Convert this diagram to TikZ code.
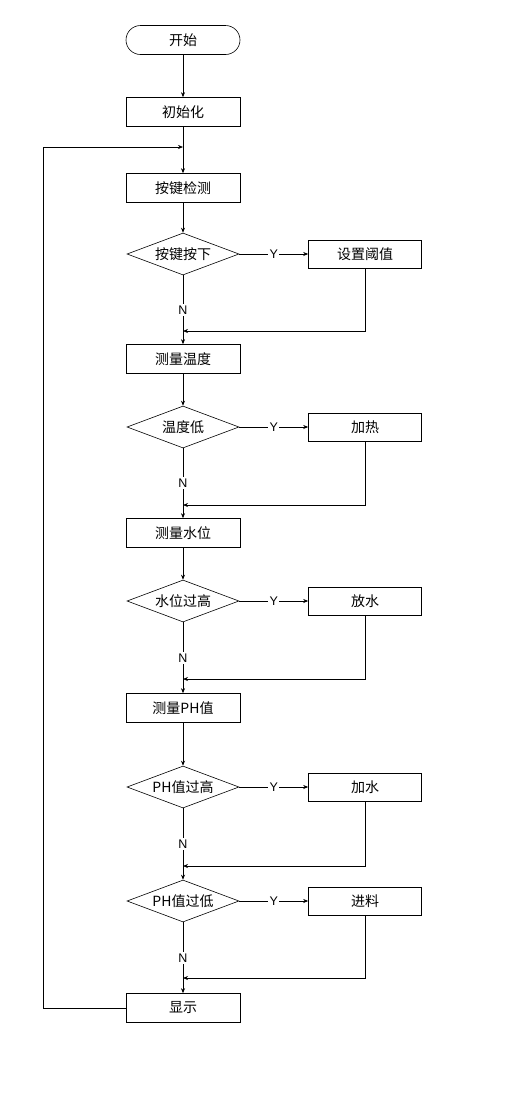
\documentclass[tikz,border=0pt]{standalone}
\usepackage{fontspec}
\newfontfamily\cjk{Noto Sans CJK SC}
\setsansfont{Liberation Sans}
\usetikzlibrary{shapes.geometric,arrows.meta}
\begin{document}
\begin{tikzpicture}[x=1pt,y=-1pt,
  every node/.style={font=\cjk\fontsize{14}{16}\selectfont},
  box/.style={draw,line width=0.6pt,minimum width=114pt,minimum height=29pt,inner sep=0pt},
  rbox/.style={box,minimum width=113pt,minimum height=28pt},
  term/.style={draw,line width=0.6pt,rounded corners=14.5pt,minimum width=114pt,minimum height=29pt,inner sep=0pt},
  dec/.style={draw,line width=0.6pt,diamond,aspect=2.67,minimum width=112pt,minimum height=42pt,inner sep=0pt},
  lbl/.style={font=\sffamily\fontsize{12.5}{14}\selectfont,fill=white,inner sep=1.5pt},
  line/.style={line width=0.6pt},
  arr/.style={line,-{Stealth[length=5pt,width=4pt]}}]
\useasboundingbox (0,0) rectangle (508,1096);
\node[term] (start) at (183,40) {开始};
\node[box] (init) at (183,112) {初始化};
\coordinate (loop) at (183,147);
\node[box] (key) at (183,188) {按键检测};
\node[dec] (d1) at (183,254) {按键按下};
\node[rbox] (r1) at (365,254) {设置阈值};
\coordinate (j1) at (183,331);
\node[box] (temp) at (183,359) {测量温度};
\node[dec] (d2) at (183,427) {温度低};
\node[rbox] (r2) at (365,427) {加热};
\coordinate (j2) at (183,505);
\node[box] (lvl) at (183,533) {测量水位};
\node[dec] (d3) at (183,601) {水位过高};
\node[rbox] (r3) at (365,601) {放水};
\coordinate (j3) at (183,679);
\node[box] (ph) at (183,708) {测量PH值};
\node[dec] (d4) at (183,787) {PH值过高};
\node[rbox] (r4) at (365,787) {加水};
\coordinate (j4) at (183,866);
\node[dec] (d5) at (183,901) {PH值过低};
\node[rbox] (r5) at (365,901) {进料};
\coordinate (j5) at (183,978);
\node[box] (disp) at (183,1008) {显示};
\coordinate (lc1) at (43,1008);
\coordinate (lc2) at (43,147);

\draw[arr] (start) -- (init);
\draw[line] (init) -- (loop);
\draw[arr] (loop) -- (key);
\draw[arr] (key) -- (d1);
% decision 1
\draw[arr] (d1) -- node[lbl] {Y} (r1);
\draw[arr] (d1) -- node[lbl] {N} (temp);
\draw[arr] (r1) |- (j1);
% decision 2
\draw[arr] (temp) -- (d2);
\draw[arr] (d2) -- node[lbl] {Y} (r2);
\draw[arr] (d2) -- node[lbl] {N} (lvl);
\draw[arr] (r2) |- (j2);
% decision 3
\draw[arr] (lvl) -- (d3);
\draw[arr] (d3) -- node[lbl] {Y} (r3);
\draw[arr] (d3) -- node[lbl] {N} (ph);
\draw[arr] (r3) |- (j3);
% decision 4
\draw[arr] (ph) -- (d4);
\draw[arr] (d4) -- node[lbl] {Y} (r4);
\draw[arr] (d4) -- node[lbl] {N} (d5);
\draw[arr] (r4) |- (j4);
% decision 5
\draw[arr] (d5) -- node[lbl] {Y} (r5);
\draw[arr] (d5) -- node[lbl] {N} (disp);
\draw[arr] (r5) |- (j5);
% loop back
\draw[arr] (disp.west) -- (lc1) -- (lc2) -- (loop);
\end{tikzpicture}
\end{document}
